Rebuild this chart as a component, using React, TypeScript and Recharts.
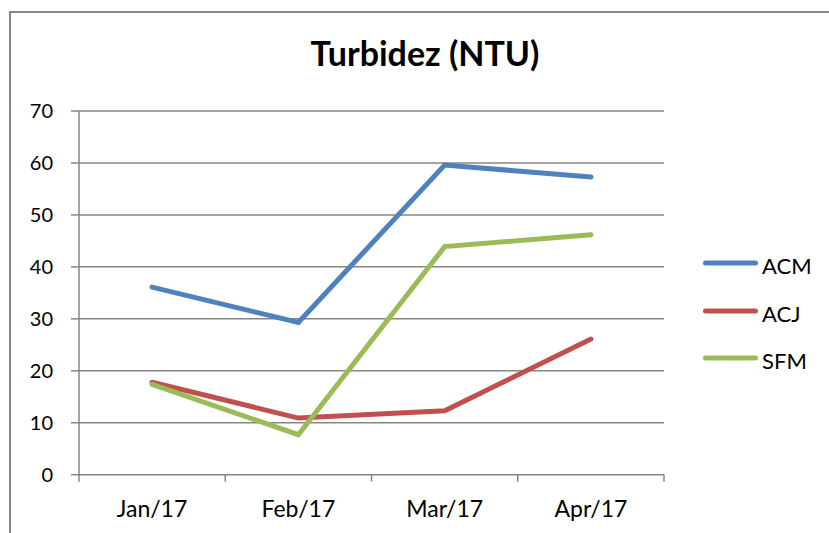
import React from 'react';
import { LineChart, Line, XAxis, YAxis, CartesianGrid, Legend } from 'recharts';

const months = ['Jan/17', 'Feb/17', 'Mar/17', 'Apr/17'];
const acm = [36.1, 29.3, 59.6, 57.3];
const acj = [17.8, 10.9, 12.3, 26.1];
const sfm = [17.4, 7.7, 43.9, 46.2];
const yTicks = [0, 10, 20, 30, 40, 50, 60, 70];
const boundaryTicks = [0, 1, 2, 3, 4];

const series = [
  { key: 'ACM', color: '#4F81BD' },
  { key: 'ACJ', color: '#C0504D' },
  { key: 'SFM', color: '#9BBB59' },
];

const data = months.map((m, i) => ({ month: m, pos: i + 0.5, ACM: acm[i], ACJ: acj[i], SFM: sfm[i] }));

const FONT = 'Lato, "Noto Sans", sans-serif';
const GRID = '#868686';

const LegendContent = () => (
  <div style={{ fontFamily: FONT }}>
    {series.map((s) => (
      <div key={s.key} style={{ height: 47.5, display: 'flex', alignItems: 'center' }}>
        <svg width={55} height={8} style={{ display: 'block' }}>
          <line x1={2.5} y1={4} x2={52.5} y2={4} stroke={s.color} strokeWidth={5} strokeLinecap="round" />
        </svg>
        <span style={{ marginLeft: 4, fontSize: 22, color: '#000', lineHeight: '22px', position: 'relative', top: 3 }}>{s.key}</span>
      </div>
    ))}
  </div>
);

export default function App() {
  return (
    <div style={{ position: 'absolute', left: 0, top: 0, width: 829, height: 533, overflow: 'hidden', background: '#fff' }}>
      <div
        style={{
          position: 'absolute',
          left: 9,
          top: 11,
          width: 900,
          height: 600,
          border: '2px solid #888',
          boxSizing: 'border-box',
        }}
      />
      <div
        style={{
          position: 'absolute',
          left: 0,
          width: 850,
          top: 33,
          textAlign: 'center',
          fontFamily: FONT,
          fontWeight: 'bold',
          fontSize: 34,
          lineHeight: '40px',
          color: '#000',
        }}
      >
        Turbidez (NTU)
      </div>
      <div style={{ position: 'absolute', left: 0, top: 0 }}>
        <LineChart width={829} height={533} data={data} margin={{ top: 111, right: 45, left: 0, bottom: 0 }}>
          <CartesianGrid xAxisId="cat" vertical={false} stroke={GRID} strokeWidth={1.5} />
          <XAxis
            dataKey="pos"
            type="number"
            domain={[0, 4]}
            allowDataOverflow
            ticks={boundaryTicks}
            height={1}
            axisLine={false}
            tickFormatter={() => ''}
            tickLine={{ stroke: GRID, strokeWidth: 1.5 }}
            tickSize={7}
            interval={0}
          />
          <XAxis
            xAxisId="cat"
            dataKey="month"
            height={57.3}
            padding={{ left: 73, right: 73 }}
            axisLine={false}
            tickLine={false}
            tickSize={7}
            tickMargin={18}
            tick={{ fill: '#000', fontSize: 23, fontFamily: FONT }}
            interval={0}
          />
          <YAxis
            width={79}
            domain={[0, 70]}
            ticks={yTicks}
            axisLine={{ stroke: GRID, strokeWidth: 1.5 }}
            tickLine={{ stroke: GRID, strokeWidth: 1.5 }}
            tickSize={8}
            tickMargin={18}
            tick={{ fill: '#000', fontSize: 20, fontFamily: FONT }}
            interval={0}
          />
          <Legend
            layout="vertical"
            align="right"
            verticalAlign="middle"
            content={<LegendContent />}
            wrapperStyle={{ left: 703, top: 239.25, right: 'auto', bottom: 'auto', width: 120 }}
          />
          {series.map((s) => (
            <Line
              key={s.key}
              xAxisId="cat"
              type="linear"
              dataKey={s.key}
              stroke={s.color}
              strokeWidth={5}
              dot={false}
              activeDot={false}
              strokeLinecap="round"
              isAnimationActive={false}
            />
          ))}
        </LineChart>
      </div>
    </div>
  );
}
